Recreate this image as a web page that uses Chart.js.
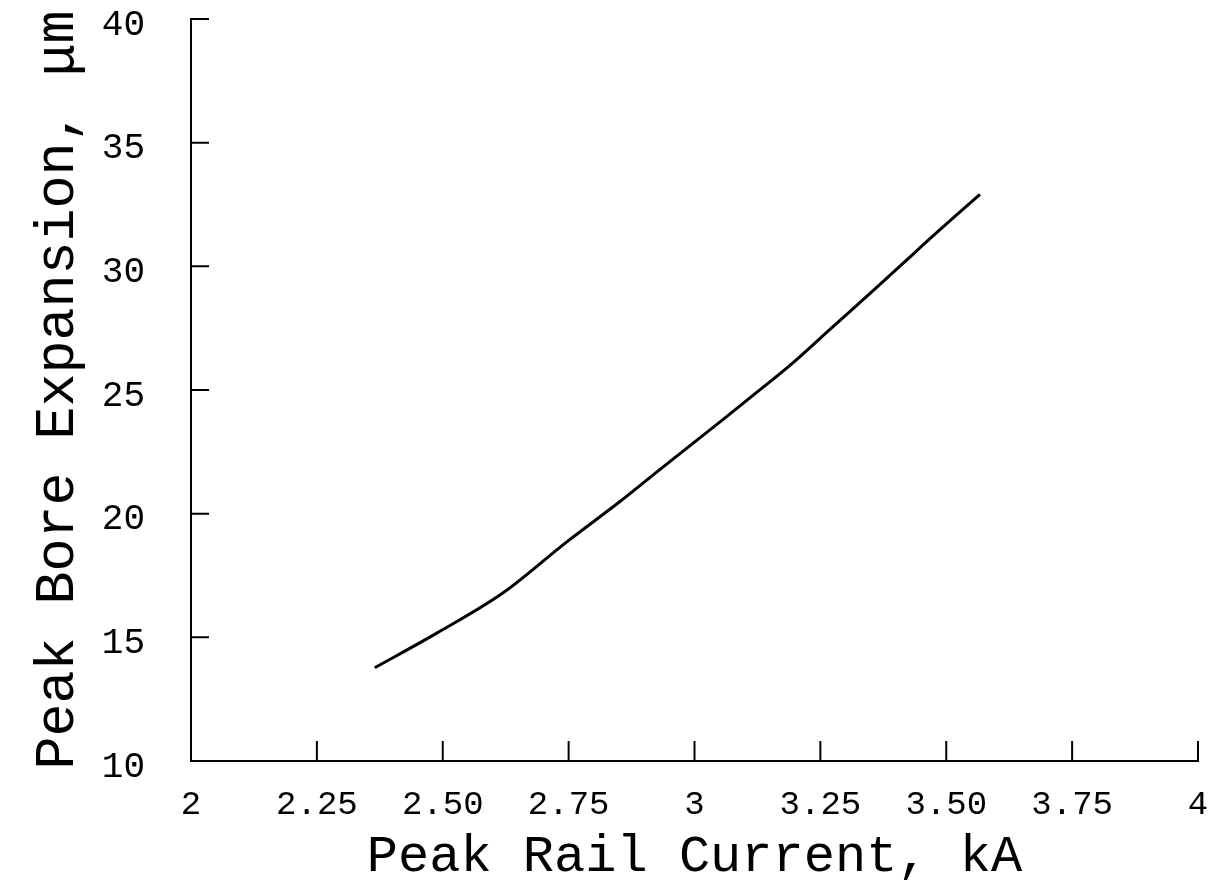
<!DOCTYPE html>
<html>
<head>
<meta charset="utf-8">
<script src="https://cdn.jsdelivr.net/npm/chart.js@4"></script>
<style>
  html, body { margin: 0; padding: 0; background: #fff; }
  #wrap { width: 1224px; height: 888px; }
</style>
</head>
<body>
<div id="wrap"><canvas id="chart" width="1224" height="888"></canvas></div>
<script>
// values
const current = [2.365, 2.489, 2.62, 2.747, 2.852, 2.931, 3.057, 3.11, 3.196, 3.269, 3.364, 3.414, 3.482, 3.567];
const expansion = [13.77, 15.18, 16.8, 18.87, 20.49, 21.78, 23.81, 24.68, 26.11, 27.45, 29.19, 30.12, 31.38, 32.91];

const xTickValues = [2, 2.25, 2.5, 2.75, 3, 3.25, 3.5, 3.75, 4];
const xTickLabels = ['2', '2.25', '2.50', '2.75', '3', '3.25', '3.50', '3.75', '4'];
const yTickValues = [10, 15, 20, 25, 30, 35, 40];

const FONT = '"Liberation Mono", "DejaVu Sans Mono", monospace';

// tick marks point into the plot, like the original
const innerTicks = {
  id: 'innerTicks',
  afterDraw(chart) {
    const ctx = chart.ctx;
    const x = chart.scales.x, y = chart.scales.y;
    ctx.save();
    ctx.strokeStyle = '#000';
    ctx.lineWidth = 2;
    ctx.beginPath();
    xTickValues.forEach(v => {
      const px = x.getPixelForValue(v);
      ctx.moveTo(px, y.bottom);
      ctx.lineTo(px, y.bottom - 20);
    });
    yTickValues.forEach(v => {
      const py = y.getPixelForValue(v);
      ctx.moveTo(x.left, py);
      ctx.lineTo(x.left + 18, py);
    });
    ctx.stroke();
    ctx.restore();
  }
};

const data = current.map((c, i) => ({ x: c, y: expansion[i] }));

new Chart(document.getElementById('chart').getContext('2d'), {
  type: 'scatter',
  data: {
    datasets: [{
      data: data,
      showLine: true,
      borderColor: '#000',
      borderWidth: 3,
      pointRadius: 0,
      cubicInterpolationMode: 'monotone',
      fill: false
    }]
  },
  options: {
    responsive: false,
    animation: false,
    layout: { padding: { top: 19, right: 26, left: 0, bottom: 0 } },
    plugins: {
      legend: { display: false },
      tooltip: { enabled: false }
    },
    scales: {
      x: {
        type: 'linear',
        min: 2,
        max: 4,
        afterBuildTicks(scale) {
          scale.ticks = xTickValues.map(v => ({ value: v }));
        },
        afterFit(scale) {
          scale.height = 127;
          scale.paddingLeft = 0;
          scale.paddingRight = 0;
        },
        ticks: {
          color: '#000',
          font: { family: FONT, size: 34 },
          padding: 24,
          maxRotation: 0,
          autoSkip: false,
          callback: (v) => {
            const i = xTickValues.indexOf(v);
            return i >= 0 ? xTickLabels[i] : '';
          }
        },
        grid: { display: false, drawTicks: false },
        border: { display: true, color: '#000', width: 2 },
        title: {
          display: true,
          text: 'Peak Rail Current, kA',
          color: '#000',
          font: { family: FONT, size: 52 },
          padding: { top: 0, bottom: 0 }
        }
      },
      y: {
        type: 'linear',
        min: 10,
        max: 40,
        afterBuildTicks(scale) {
          scale.ticks = yTickValues.map(v => ({ value: v }));
        },
        afterFit(scale) {
          scale.width = 191;
          scale.paddingTop = 0;
          scale.paddingBottom = 0;
        },
        ticks: {
          color: '#000',
          font: { family: FONT, size: 36 },
          padding: 46,
          labelOffset: 6
        },
        grid: { display: false, drawTicks: false },
        border: { display: true, color: '#000', width: 2 },
        title: {
          display: true,
          text: 'Peak Bore Expansion, \u03bcm',
          color: '#000',
          font: { family: FONT, size: 55 },
          padding: { top: 25, bottom: 0 }
        }
      }
    }
  },
  plugins: [innerTicks]
});
</script>
</body>
</html>
